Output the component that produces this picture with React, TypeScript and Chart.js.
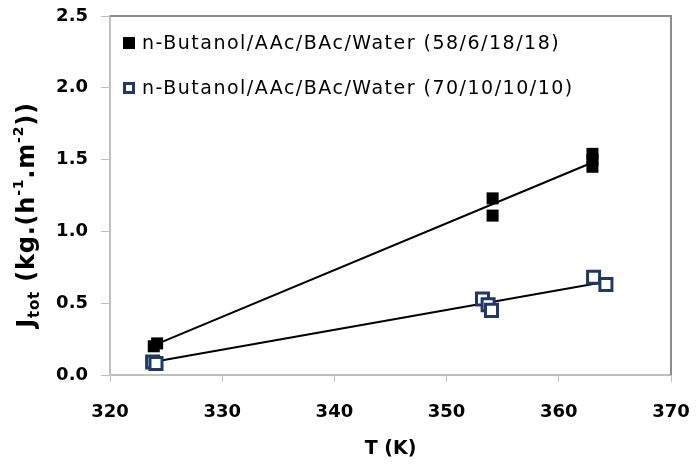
import React, { useEffect, useRef } from "react";
import { Chart, registerables } from "chart.js";

Chart.register(...registerables);

const series1Label = "n-Butanol/AAc/BAc/Water (58/6/18/18)";
const series2Label = "n-Butanol/AAc/BAc/Water (70/10/10/10)";

const series1T = [323.9, 324.2, 354.1, 354.1, 363.0, 363.0, 363.0];
const series1J = [0.2, 0.22, 1.23, 1.11, 1.54, 1.5, 1.45];

const series2T = [323.8, 324.1, 353.2, 353.7, 354.0, 363.1, 364.2];
const series2J = [0.09, 0.08, 0.53, 0.49, 0.45, 0.68, 0.63];

const trend1T = [324.0, 363.0];
const trend1J = [0.21, 1.48];
const trend2T = [323.8, 364.2];
const trend2J = [0.09, 0.65];

const xTicks = [320, 330, 340, 350, 360, 370];
const yTicks = [0, 0.5, 1.0, 1.5, 2.0, 2.5];

const NAVY = "#1f3864";
const TICK_FONT = "'DejaVu Sans', sans-serif";

const toPts = (xs: number[], ys: number[]) => xs.map((x, i) => ({ x, y: ys[i] }));

const framePlugin = {
  id: "frame",
  beforeDatasetsDraw(chart: any) {
    const { ctx, chartArea } = chart;
    ctx.save();
    ctx.strokeStyle = "#8c8c8c";
    ctx.lineWidth = 2;
    ctx.beginPath();
    ctx.moveTo(chartArea.left, chartArea.top);
    ctx.lineTo(chartArea.right, chartArea.top);
    ctx.lineTo(chartArea.right, chartArea.bottom);
    ctx.stroke();
    ctx.restore();
  },
};

const legendPlugin = {
  id: "customLegend",
  afterDatasetsDraw(chart: any) {
    const { ctx, chartArea } = chart;
    const entries = [
      { label: series1Label, fill: "#000000", stroke: "#000000", y: chartArea.top + 27 },
      { label: series2Label, fill: "#ffffff", stroke: NAVY, y: chartArea.top + 72 },
    ];
    ctx.save();
    ctx.font = `19px ${TICK_FONT}`;
    (ctx as any).letterSpacing = "1.5px";
    ctx.textBaseline = "middle";
    ctx.fillStyle = "#000";
    for (const e of entries) {
      const sx = chartArea.left + 13;
      if (e.fill === "#000000") {
        ctx.fillStyle = "#000";
        ctx.fillRect(sx, e.y - 6, 12, 12);
      } else {
        ctx.fillStyle = "#fff";
        ctx.fillRect(sx + 1, e.y - 5, 10, 10);
        ctx.strokeStyle = e.stroke;
        ctx.lineWidth = 3;
        ctx.strokeRect(sx + 1.5, e.y - 4.5, 9, 9);
      }
      ctx.fillStyle = "#000";
      ctx.fillText(e.label, sx + 19, e.y + 1);
    }
    (ctx as any).letterSpacing = "0px";
    ctx.restore();
  },
};

const yTitlePlugin = {
  id: "yTitle",
  afterDraw(chart: any) {
    const { ctx } = chart;
    const parts: { t: string; sz: number; dy: number }[] = [
      { t: "J", sz: 24, dy: 0 },
      { t: "tot", sz: 15, dy: 7 },
      { t: " (kg.(h", sz: 24, dy: 0 },
      { t: "-1", sz: 14, dy: -9 },
      { t: ".m", sz: 24, dy: 0 },
      { t: "-2", sz: 14, dy: -9 },
      { t: "))", sz: 24, dy: 0 },
    ];
    ctx.save();
    (ctx as any).letterSpacing = "0.8px";
    let total = 0;
    for (const p of parts) {
      ctx.font = `bold ${p.sz}px ${TICK_FONT}`;
      total += ctx.measureText(p.t).width;
    }
    const cy = 215;
    ctx.translate(28, cy);
    ctx.rotate(-Math.PI / 2);
    ctx.textBaseline = "middle";
    ctx.fillStyle = "#000";
    let x = -total / 2;
    for (const p of parts) {
      ctx.font = `bold ${p.sz}px ${TICK_FONT}`;
      ctx.fillText(p.t, x, p.dy);
      x += ctx.measureText(p.t).width;
    }
    (ctx as any).letterSpacing = "0px";
    ctx.restore();
  },
};

export default function App() {
  const ref = useRef<HTMLCanvasElement | null>(null);

  useEffect(() => {
    if (!ref.current) return;
    const chart = new Chart(ref.current, {
      type: "scatter",
      data: {
        datasets: [
          {
            label: series1Label,
            data: toPts(series1T, series1J),
            pointStyle: "rect",
            pointRadius: 8.5,
            pointBackgroundColor: "#000",
            pointBorderColor: "#000",
            pointBorderWidth: 0,
            showLine: false,
            order: 1,
          },
          {
            label: series2Label,
            data: toPts(series2T, series2J),
            pointStyle: "rect",
            pointRadius: 8.5,
            pointBackgroundColor: "#fff",
            pointBorderColor: NAVY,
            pointBorderWidth: 3,
            showLine: false,
            order: 1,
          },
          {
            label: "trend1",
            data: toPts(trend1T, trend1J),
            showLine: true,
            borderColor: "#000",
            borderWidth: 2,
            pointRadius: 0,
            order: 2,
          },
          {
            label: "trend2",
            data: toPts(trend2T, trend2J),
            showLine: true,
            borderColor: "#000",
            borderWidth: 2,
            pointRadius: 0,
            order: 2,
          },
        ],
      },
      options: {
        animation: false,
        responsive: false,
        maintainAspectRatio: false,
        layout: { padding: { top: 16, right: 27, left: 0, bottom: 0 } },
        plugins: {
          legend: { display: false },
          tooltip: { enabled: false },
        },
        scales: {
          x: {
            type: "linear",
            min: 320,
            max: 370,
            afterBuildTicks: (axis: any) => {
              axis.ticks = xTicks.map((v) => ({ value: v }));
            },
            afterFit: (axis: any) => {
              axis.height = 97;
              axis.paddingLeft = 0;
              axis.paddingRight = 0;
            },
            grid: { drawOnChartArea: false, tickLength: 7, color: "#bfbfbf" },
            border: { color: "#bfbfbf", width: 2 },
            ticks: {
              padding: 20,
              color: "#000",
              font: { family: TICK_FONT, size: 18, weight: "bold" },
              callback: (v: any) => String(v),
            },
            title: {
              display: true,
              text: "T (K)",
              color: "#000",
              font: { family: TICK_FONT, size: 19, weight: "bold" },
              padding: { top: 4, bottom: 12 },
            },
          },
          y: {
            type: "linear",
            min: 0,
            max: 2.5,
            afterBuildTicks: (axis: any) => {
              axis.ticks = yTicks.map((v) => ({ value: v }));
            },
            afterFit: (axis: any) => {
              axis.width = 110;
              axis.paddingTop = 0;
              axis.paddingBottom = 0;
            },
            grid: { drawOnChartArea: false, tickLength: 9, color: "#bfbfbf" },
            border: { color: "#bfbfbf", width: 2 },
            ticks: {
              padding: 13,
              color: "#000",
              font: { family: TICK_FONT, size: 18, weight: "bold" },
              callback: (v: any) => Number(v).toFixed(1),
            },
          },
        },
      },
      plugins: [framePlugin, legendPlugin, yTitlePlugin],
    } as any);
    return () => chart.destroy();
  }, []);

  return (
    <div style={{ position: "absolute", left: 0, top: 0, width: 698, height: 472, background: "#fff" }}>
      <canvas ref={ref} width={698} height={472} style={{ width: 698, height: 472 }} />
    </div>
  );
}
